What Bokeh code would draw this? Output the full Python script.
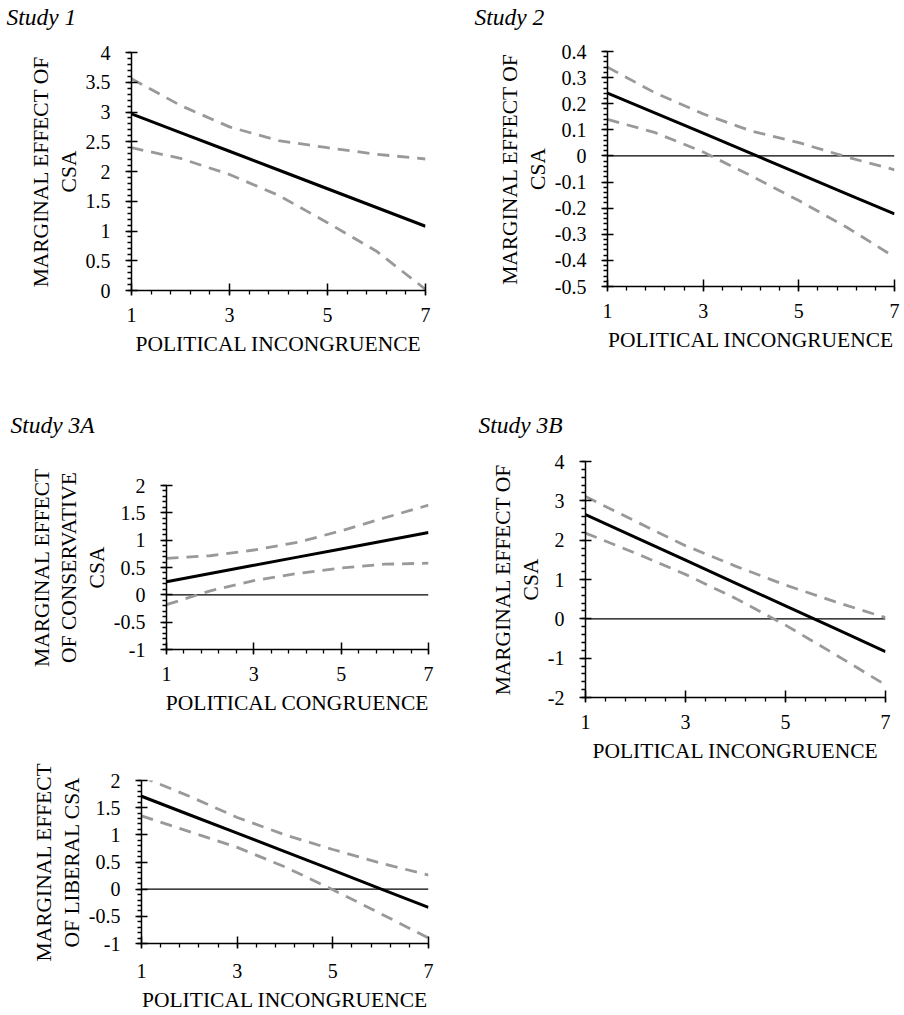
from bokeh.plotting import figure
from bokeh.models import Range1d, FixedTicker, CustomJSTickFormatter, Span
from bokeh.layouts import row, column
from bokeh.core.properties import value
from bokeh.embed import file_html
from bokeh.resources import INLINE

FONT = "Liberation Serif"
GRAY = "#999999"

# ---------------- data ----------------
x_vals = [1, 2, 3, 4, 5, 6, 7]
x_ticks = [1, 3, 5, 7]

# Study 1
s1_est = [2.97, 2.655, 2.34, 2.025, 1.71, 1.395, 1.08]
s1_upper = [3.56, 3.11, 2.75, 2.52, 2.40, 2.29, 2.21]
s1_lower = [2.40, 2.22, 1.95, 1.60, 1.14, 0.66, 0.02]
s1_yticks = [0, 0.5, 1, 1.5, 2, 2.5, 3, 3.5, 4]

# Study 2
s2_est = [0.241, 0.164, 0.087, 0.010, -0.068, -0.145, -0.222]
s2_upper = [0.34, 0.241, 0.161, 0.096, 0.051, -0.004, -0.053]
s2_lower = [0.14, 0.089, 0.015, -0.076, -0.171, -0.273, -0.387]
s2_yticks = [-0.5, -0.4, -0.3, -0.2, -0.1, 0, 0.1, 0.2, 0.3, 0.4]

# Study 3A - conservative CSA
s3a_est = [0.24, 0.39, 0.54, 0.69, 0.84, 0.99, 1.14]
s3a_upper = [0.666, 0.715, 0.82, 0.96, 1.17, 1.41, 1.64]
s3a_lower = [-0.18, 0.073, 0.26, 0.39, 0.49, 0.56, 0.58]
s3a_yticks = [-1, -0.5, 0, 0.5, 1, 1.5, 2]

# Study 3A - liberal CSA
s3l_est = [1.71, 1.37, 1.03, 0.69, 0.35, 0.005, -0.335]
s3l_upper = [2.07, 1.71, 1.32, 1.00, 0.73, 0.48, 0.26]
s3l_lower = [1.35, 1.06, 0.77, 0.41, -0.01, -0.45, -0.90]
s3l_yticks = [-1, -0.5, 0, 0.5, 1, 1.5, 2]

# Study 3B
s3b_est = [2.65, 2.07, 1.49, 0.91, 0.33, -0.25, -0.835]
s3b_upper = [3.11, 2.48, 1.86, 1.34, 0.86, 0.43, 0.03]
s3b_lower = [2.18, 1.67, 1.13, 0.52, -0.16, -0.91, -1.68]
s3b_yticks = [-2, -1, 0, 1, 2, 3, 4]

titles = ["Study 1", "Study 2", "Study 3A", "Study 3B"]
x_label_incong = "POLITICAL INCONGRUENCE"
x_label_cong = "POLITICAL CONGRUENCE"
y_label_csa = "MARGINAL EFFECT OF\nCSA"
y_label_cons = "MARGINAL EFFECT\nOF CONSERVATIVE\nCSA"
y_label_lib = "MARGINAL EFFECT\nOF LIBERAL CSA"


def minor_list(lo, hi, step):
    n = int(round((hi - lo) / step))
    return [round(lo + i * step, 6) for i in range(n + 1)]


def title_fig(text, w, h, tx, base):
    t = figure(frame_width=w, frame_height=h, min_border=0, frame_align=False,
               x_range=Range1d(0, w), y_range=Range1d(h, 0),
               x_axis_location=None, y_axis_location=None,
               output_backend="svg", toolbar_location=None, tools="")
    t.outline_line_color = None
    t.grid.visible = False
    t.xgrid.visible = False
    t.ygrid.visible = False
    t.background_fill_color = "white"
    t.border_fill_color = "white"
    t.text(x=[tx], y=[base], text=[text], text_font=value(FONT),
           text_font_style="italic", text_font_size="23.5px", text_color="black",
           text_align="left", text_baseline="alphabetic")
    return t


def panel(est, upper, lower, yticks, ystep_minor, xlab, ylab, zero,
          fw, fh, bl, br, bt, bb, xl_standoff=12, xa_standoff=7):
    ylo, yhi = yticks[0], yticks[-1]
    p = figure(frame_width=fw, frame_height=fh, frame_align=False,
               min_border_left=bl, min_border_right=br,
               min_border_top=bt, min_border_bottom=bb,
               x_range=Range1d(1, 7), y_range=Range1d(ylo, yhi),
               output_backend="svg", toolbar_location=None, tools="")
    p.outline_line_color = None
    p.grid.visible = False
    p.background_fill_color = "white"
    p.border_fill_color = "white"

    if zero:
        p.add_layout(Span(location=0, dimension="width", line_color="black",
                          line_width=1.3, level="underlay"))

    p.line(x_vals, upper, line_color=GRAY, line_width=2.8, line_dash="12 8")
    p.line(x_vals, lower, line_color=GRAY, line_width=2.8, line_dash="12 8")
    p.line(x_vals, est, line_color="black", line_width=3)

    fmt = CustomJSTickFormatter(code="return String(Math.round(tick*100)/100);")

    xa = p.xaxis[0]
    xa.ticker = FixedTicker(ticks=x_ticks, minor_ticks=minor_list(1, 7, 0.4))
    xa.formatter = fmt
    xa.axis_label = xlab
    ya = p.yaxis[0]
    ya.ticker = FixedTicker(ticks=yticks, minor_ticks=minor_list(ylo, yhi, ystep_minor))
    ya.formatter = fmt
    ya.axis_label = ylab

    for ax in (xa, ya):
        ax.axis_line_color = "black"
        ax.axis_line_width = 1.5
        ax.major_tick_line_color = "black"
        ax.major_tick_line_width = 1.5
        ax.minor_tick_line_color = "black"
        ax.minor_tick_line_width = 1.3
        ax.major_label_text_font = FONT
        ax.major_label_text_font_size = "20px"
        ax.major_label_text_color = "black"
        ax.axis_label_text_font = FONT
        ax.axis_label_text_font_size = "21.5px"
        ax.axis_label_text_font_style = "normal"
        ax.axis_label_text_color = "black"
        ax.axis_label_text_line_height = 1.15

    xa.major_tick_in = 7
    xa.major_tick_out = 5
    xa.minor_tick_in = 0
    xa.minor_tick_out = 4
    xa.major_label_standoff = xl_standoff
    xa.axis_label_standoff = xa_standoff

    ya.major_tick_in = 6
    ya.major_tick_out = 6
    ya.minor_tick_in = 0
    ya.minor_tick_out = 4
    ya.major_label_standoff = 15
    ya.axis_label_standoff = 2
    return p


LW, RW = 452, 450

t1 = title_fig(titles[0], LW, 40, 6, 16)
f1 = panel(s1_est, s1_upper, s1_lower, s1_yticks, 0.1, x_label_incong, y_label_csa, False,
           fw=294, fh=238, bl=131, br=27, bt=12, bb=90)
t3a = title_fig(titles[2], LW, 85, 10, 44)
f3a = panel(s3a_est, s3a_upper, s3a_lower, s3a_yticks, 0.1, x_label_cong, y_label_cons, True,
            fw=262, fh=164, bl=166, br=24, bt=20, bb=76)
f3l = panel(s3l_est, s3l_upper, s3l_lower, s3l_yticks, 0.1, x_label_incong, y_label_lib, True,
            fw=287, fh=163, bl=141, br=24, bt=55, bb=70, xl_standoff=15, xa_standoff=7)

t2 = title_fig(titles[1], RW, 39, 22, 16)
f2 = panel(s2_est, s2_upper, s2_lower, s2_yticks, 0.02, x_label_incong, y_label_csa, True,
           fw=287, fh=235, bl=155, br=8, bt=12, bb=94)
t3b = title_fig(titles[3], RW, 69, 26, 44)
f3b = panel(s3b_est, s3b_upper, s3b_lower, s3b_yticks, 0.2, x_label_incong, y_label_csa, True,
            fw=300, fh=236, bl=133, br=17, bt=12, bb=79)

layout = row(column(t1, f1, t3a, f3a, f3l), column(t2, f2, t3b, f3b))

open("out.html", "w").write(file_html(layout, INLINE))
